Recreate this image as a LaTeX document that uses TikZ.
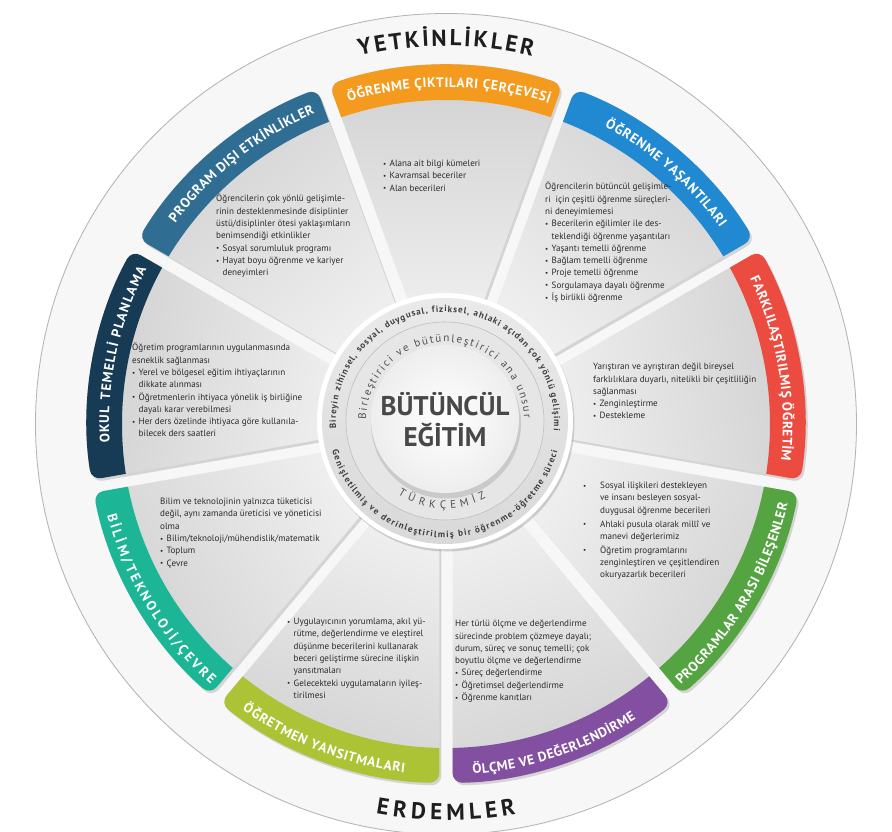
\documentclass[tikz,border=0pt]{standalone}
\usepackage{fontspec}
\setmainfont{PT Sans}
\usetikzlibrary{decorations.text}
\definecolor{orn}{HTML}{F39A1F}
\definecolor{blu}{HTML}{2089D1}
\definecolor{redb}{HTML}{EC4C40}
\definecolor{grn}{HTML}{55A442}
\definecolor{pur}{HTML}{834FA1}
\definecolor{ylw}{HTML}{ABC334}
\definecolor{tea}{HTML}{1CB596}
\definecolor{nav}{HTML}{173B55}
\definecolor{stl}{HTML}{306D92}
\definecolor{segout}{HTML}{D0D0D0}
\definecolor{segin}{HTML}{EEEEEE}
\definecolor{txt}{HTML}{2B2B2B}
\definecolor{bgw}{HTML}{F7F7F7}
\definecolor{ringin}{HTML}{E6E6E6}
\definecolor{ringout}{HTML}{D2D2D2}
\definecolor{ctxt}{HTML}{3E3E3E}
\definecolor{itxt}{HTML}{505050}
\definecolor{ringtxt}{HTML}{1E1E1E}
\definecolor{cr1}{HTML}{EAEAEA}
\definecolor{cr2}{HTML}{D9D9D9}
\definecolor{irc}{HTML}{E6E6E6}
\definecolor{coretxt}{HTML}{484848}
\pgfdeclareradialshading{ringsh}{\pgfpoint{0bp}{0bp}}{color(0bp)=(bgw); color(45.4bp)=(bgw); color(45.6bp)=(ringin); color(49.5bp)=(ringout); color(50bp)=(ringout)}
\newcommand\myHead{\bfseries\fontsize{13.6}{13.6}\selectfont\color{white}}
\newcommand\myRing{\bfseries\fontsize{23}{23}\selectfont\color{ringtxt}}
\newcommand\myOuter{\bfseries\fontsize{9}{9}\selectfont\color{ctxt}}
\newcommand\myInner{\fontsize{11}{11}\selectfont\color{itxt}}
\newcommand\bul{\makebox[6.5pt][l]{\raisebox{0.3pt}{\fontsize{7}{7}\selectfont•}}}
\newcommand\ind{\hspace*{6.5pt}}
\newcommand\gbul{\makebox[17pt][l]{\raisebox{0.3pt}{\fontsize{7}{7}\selectfont•}}}
\newcommand\gind{\hspace*{17pt}}
\begin{document}
\begin{tikzpicture}[x=1pt,y=1pt,
  segp/.style={insert path={(#1-16.84:118pt) -- (#1-18.96:359pt) arc[start angle=#1-18.96, end angle=#1+18.96, radius=359pt] -- (#1+16.84:118pt) -- cycle}},
  body/.style={font=\fontsize{9.1}{12.3}\selectfont, text=txt, align=left, inner sep=0pt, anchor=north west},
  center text/.style={font=\bfseries\fontsize{27}{31}\selectfont, text=coretxt, align=center, inner sep=0pt}
]
\useasboundingbox (-446,-407) rectangle (446,424);
\fill[white] (-446,-407) rectangle (446,424);
% outer ring
\shade[shading=ringsh] (0,0) circle (411pt);
\draw[ringout!85!black, line width=0.8pt] (0,0) circle (410.5pt);
% segments
\foreach \c/\col in {90/orn, 50/blu, 10/redb, -30/grn, -70/pur, -110/ylw, -150/tea, 170/nav, 130/stl}{
  \pgfmathsetmacro\sa{\c-90}
  \fill[black, opacity=.14, shift={(2,-2.5)}, rounded corners=10pt] [segp=\c];
  \shade[rounded corners=10pt, top color=segout, bottom color=segin, shading angle=\sa] [segp=\c];
  \begin{scope}
    \clip[rounded corners=10pt] [segp=\c];
    \fill[\col, even odd rule] (0,0) circle (400pt) (0,0) circle (324pt);
  \end{scope}
}
% headings on bands (clockwise, tops outward)
\path[decorate, decoration={text along path, text align=fit to path, text={|\myHead|ÖĞRENME ÇIKTILARI ÇERÇEVESİ}}] (106.8:337pt) arc[start angle=106.8, end angle=72.2, radius=337pt];
\path[decorate, decoration={text along path, text align=fit to path, text={|\myHead|ÖĞRENME YAŞANTILARI}}] (61.9:337pt) arc[start angle=61.9, end angle=35.6, radius=337pt];
\path[decorate, decoration={text along path, text align=fit to path, text={|\myHead|FARKLILAŞTIRILMIŞ ÖĞRETİM}}] (25.6:337pt) arc[start angle=25.6, end angle=-6.2, radius=337pt];
\path[decorate, decoration={text along path, text align=fit to path, text={|\myHead|OKUL TEMELLİ PLANLAMA}}] (183.2:337pt) arc[start angle=183.2, end angle=152.7, radius=337pt];
\path[decorate, decoration={text along path, text align=fit to path, text={|\myHead|PROGRAM DIŞI ETKİNLİKLER}}] (143.4:337pt) arc[start angle=143.4, end angle=112.9, radius=337pt];
% headings on bands (counter-clockwise, tops inward)
\path[decorate, decoration={text along path, text align=fit to path, text={|\myHead|PROGRAMLAR ARASI BİLEŞENLER}}] (-48:351pt) arc[start angle=-48, end angle=-13.2, radius=351pt];
\path[decorate, decoration={text along path, text align=fit to path, text={|\myHead|ÖLÇME VE DEĞERLENDİRME}}] (-85.6:351pt) arc[start angle=-85.6, end angle=-57.2, radius=351pt];
\path[decorate, decoration={text along path, text align=fit to path, text={|\myHead|ÖĞRETMEN YANSITMALARI}}] (-125.5:351pt) arc[start angle=-125.5, end angle=-96.8, radius=351pt];
\path[decorate, decoration={text along path, text align=fit to path, text={|\myHead|BİLİM/TEKNOLOJİ/ÇEVRE}}] (-164.9:351pt) arc[start angle=-164.9, end angle=-132.1, radius=351pt];
% outer ring words
\path[decorate, decoration={text along path, text align=fit to path, text={|\myRing|YETKİNLİKLER}}] (103.2:378pt) arc[start angle=103.2, end angle=76.8, radius=378pt];
\path[decorate, decoration={text along path, text align=fit to path, text={|\myRing|ERDEMLER}}] (-100.2:396pt) arc[start angle=-100.2, end angle=-79.8, radius=396pt];
% body texts
\node[body] (tOrn) at (-63,264) {\bul Alana ait bilgi kümeleri\\ \bul Kavramsal beceriler\\ \bul Alan becerileri};
\node[body] (tBlu) at (99,242) {Öğrencilerin bütüncül gelişimle-\\ ri~ için çeşitli öğrenme süreçleri-\\ ni deneyimlemesi\\ \bul Becerilerin eğilimler ile des-\\ \ind teklendiği öğrenme yaşantıları\\ \bul Yaşantı temelli öğrenme\\ \bul Bağlam temelli öğrenme\\ \bul Proje temelli öğrenme\\ \bul Sorgulamaya dayalı öğrenme\\ \bul İş birlikli öğrenme};
\node[body] (tStl) at (-230,230) {Öğrencilerin çok yönlü gelişimle-\\ rinin desteklenmesinde disiplinler\\ üstü/disiplinler ötesi yaklaşımların\\ benimsendiği etkinlikler\\ \bul Sosyal sorumluluk programı\\ \bul Hayat boyu öğrenme ve kariyer\\ \ind deneyimleri};
\node[body] (tNav) at (-314,81) {Öğretim programlarının uygulanmasında\\ esneklik sağlanması\\ \bul Yerel ve bölgesel eğitim ihtiyaçlarının\\ \ind dikkate alınması\\ \bul Öğretmenlerin ihtiyaca yönelik iş birliğine\\ \ind dayalı karar verebilmesi\\ \bul Her ders özelinde ihtiyaca göre kullanıla-\\ \ind bilecek ders saatleri};
\node[body] (tRed) at (147,61) {Yarıştıran ve ayrıştıran değil bireysel\\ farklılıklara duyarlı, nitelikli bir çeşitliliğin\\ sağlanması\\ \bul Zenginleştirme\\ \bul Destekleme};
\node[body] (tGrn) at (137,-58) {\gbul Sosyal ilişkileri destekleyen\\ \gind ve insanı besleyen sosyal-\\ \gind duygusal öğrenme becerileri\\[1.5pt] \gbul Ahlaki pusula olarak millî ve\\ \gind manevi değerlerimiz\\[1.5pt] \gbul Öğretim programlarını\\ \gind zenginleştiren ve çeşitlendiren\\ \gind okuryazarlık becerileri};
\node[body] (tTea) at (-286,-74) {Bilim ve teknolojinin yalnızca tüketicisi\\ değil, aynı zamanda üreticisi ve yöneticisi\\ olma\\ \bul Bilim/teknoloji/mühendislik/matematik\\ \bul Toplum\\ \bul Çevre};
\node[body] (tYlw) at (-159,-194) {\bul Uygulayıcının yorumlama, akıl yü-\\ \ind rütme, değerlendirme ve eleştirel\\ \ind düşünme becerilerini kullanarak\\ \ind beceri geliştirme sürecine ilişkin\\ \ind yansıtmaları\\ \bul Gelecekteki uygulamaların iyileş-\\ \ind tirilmesi};
\node[body] (tPur) at (9,-196) {Her türlü ölçme ve değerlendirme\\ sürecinde problem çözmeye dayalı;\\ durum, süreç ve sonuç temelli; çok\\ boyutlu ölçme ve değerlendirme\\ \bul Süreç değerlendirme\\ \bul Öğretimsel değerlendirme\\ \bul Öğrenme kanıtları};
% center
\begin{scope}[shift={(-1,3)}]
  \fill[black, opacity=.15] (1.5,-2.5) circle (128pt);
  \fill[white] (0,0) circle (128pt);
  \shade[top color=cr1, bottom color=cr2] (0,0) circle (123pt);
  \fill[irc] (0,0) circle (99pt);
  \draw[gray!50, line width=0.6pt] (0,0) circle (99pt);
  \fill[black, opacity=.12] (1,-2.5) circle (75pt);
  \shade[inner color=white, outer color=irc!70!white] (0,2) circle (74pt);
  \path[decorate, decoration={text along path, text align=fit to path, text={|\myOuter|Bireyin zihinsel, sosyal, duygusal, fiziksel, ahlaki açıdan çok yönlü gelişimi}}] (184:109pt) arc[start angle=184, end angle=-5, radius=109pt];
  \path[decorate, decoration={text along path, text align=fit to path, text={|\myOuter|Genişletilmiş ve derinleştirilmiş bir öğrenme-öğretme süreci}}] (-165.5:116.5pt) arc[start angle=-165.5, end angle=-15, radius=116.5pt];
  \path[decorate, decoration={text along path, text align=fit to path, text={|\myInner|Birleştirici ve bütünleştirici ana unsur}}] (179:79pt) arc[start angle=179, end angle=2, radius=79pt];
  \path[decorate, decoration={text along path, text align=fit to path, text={|\myInner|TÜRKÇEMİZ}}] (-122.5:87.5pt) arc[start angle=-122.5, end angle=-62, radius=87.5pt];
  \node[center text] (core) at (0,1) {BÜTÜNCÜL\\EĞİTİM};
\end{scope}
\end{tikzpicture}
\end{document}
